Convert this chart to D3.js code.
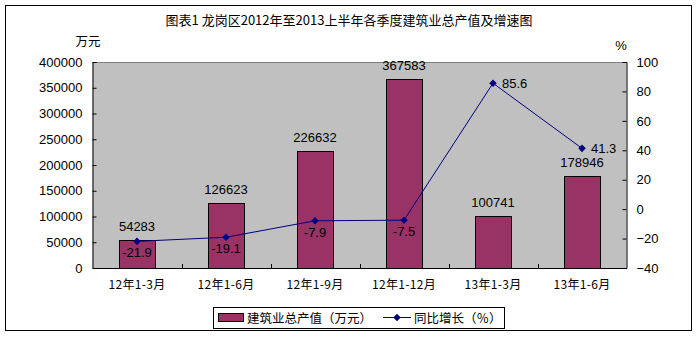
<!DOCTYPE html>
<html>
<head>
<meta charset="utf-8">
<script src="https://cdn.jsdelivr.net/npm/d3@7"></script>
<style>
  html, body { margin: 0; padding: 0; background: #fff; }
  svg { display: block; }
</style>
</head>
<body>
<svg id="chart" width="699" height="337"></svg>
<script>
// Quarterly cumulative construction output and year-on-year growth
const categories = ["12年1-3月", "12年1-6月", "12年1-9月", "12年1-12月", "13年1-3月", "13年1-6月"];
const outputValues = [54283, 126623, 226632, 367583, 100741, 178946];   // 万元
const growthValues = [-21.9, -19.1, -7.9, -7.5, 85.6, 41.3];            // %
const leftTicks = [0, 50000, 100000, 150000, 200000, 250000, 300000, 350000, 400000];
const rightTicks = [-40, -20, 0, 20, 40, 60, 80, 100];
const growthLabelPos = ["below", "below", "below", "below", "right", "right"];

const svg = d3.select("#chart");
const latin = "'Liberation Sans', Arial, sans-serif";
const cjk = "'Noto Sans CJK SC', 'Noto Sans', sans-serif";

const plot = { left: 92.5, right: 626.5, top: 62, bottom: 268 };

// outer frame
svg.append("rect")
  .attr("x", 5.5).attr("y", 5.5)
  .attr("width", 686).attr("height", 325)
  .attr("fill", "#fff").attr("stroke", "#000").attr("stroke-width", 1);

// title
svg.append("text")
  .attr("x", 349).attr("y", 25)
  .attr("text-anchor", "middle")
  .style("font-family", cjk).style("font-size", "13px")
  .attr("fill", "#000")
  .text("图表1 龙岗区2012年至2013上半年各季度建筑业总产值及增速图");

// unit labels
svg.append("text").attr("x", 88).attr("y", 46).attr("text-anchor", "middle")
  .style("font-family", cjk).style("font-size", "12.5px").text("万元");
svg.append("text").attr("x", 621).attr("y", 50).attr("text-anchor", "middle")
  .style("font-family", latin).style("font-size", "13px").text("%");

// scales
const x = d3.scaleBand().domain(categories).range([plot.left, plot.right]).padding(0);
const yL = d3.scaleLinear().domain([0, 400000]).range([plot.bottom, plot.top]);
const yR = d3.scaleLinear().domain([-40, 100]).range([plot.bottom, plot.top]);

// plot area background
svg.append("rect")
  .attr("x", plot.left).attr("y", plot.top)
  .attr("width", plot.right - plot.left).attr("height", plot.bottom - plot.top)
  .attr("fill", "#c0c0c0");
svg.append("line")
  .attr("x1", plot.left).attr("x2", plot.right)
  .attr("y1", plot.top + 0.5).attr("y2", plot.top + 0.5)
  .attr("stroke", "#808080");

// bars
const barW = x.bandwidth() * 0.4;
svg.append("g").selectAll("rect")
  .data(outputValues)
  .join("rect")
  .attr("x", (d, i) => Math.round(x(categories[i]) + (x.bandwidth() - barW) / 2) + 0.5)
  .attr("y", d => Math.round(yL(d)) + 0.5)
  .attr("width", Math.round(barW))
  .attr("height", d => Math.round(plot.bottom - yL(d)))
  .attr("fill", "#993366").attr("stroke", "#000").attr("stroke-width", 1);

// bar value labels
svg.append("g").selectAll("text")
  .data(outputValues)
  .join("text")
  .attr("x", (d, i) => x(categories[i]) + x.bandwidth() / 2)
  .attr("y", d => yL(d) - 9)
  .attr("text-anchor", "middle")
  .style("font-family", latin).style("font-size", "13px")
  .attr("fill", "#000")
  .text(d => d);

// left axis
const axisL = svg.append("g")
  .attr("transform", `translate(${plot.left},0)`)
  .call(d3.axisLeft(yL).tickValues(leftTicks).tickSize(-4).tickPadding(10).tickFormat(d3.format("d")));
axisL.select(".domain").attr("stroke", "#000");
axisL.selectAll("text").style("font-family", latin).style("font-size", "13px").attr("fill", "#000");

// right axis
const axisR = svg.append("g")
  .attr("transform", `translate(${plot.right},0)`)
  .call(d3.axisRight(yR).tickValues(rightTicks).tickSize(-4).tickPadding(10).tickFormat(d3.format("d")));
axisR.select(".domain").attr("stroke", "#000");
axisR.selectAll("text").style("font-family", latin).style("font-size", "13px").attr("fill", "#000");

// bottom axis with ticks at category boundaries
const axisB = svg.append("g")
  .attr("transform", `translate(0,${plot.bottom})`)
  .call(d3.axisBottom(x).tickSize(0).tickPadding(12));
axisB.select(".domain").attr("stroke", "#000");
axisB.selectAll("text").style("font-family", cjk).style("font-size", "12px")
  .style("letter-spacing", "0.3px").attr("fill", "#000");
svg.append("g").selectAll("line")
  .data(categories.slice(1))
  .join("line")
  .attr("x1", d => Math.round(x(d)) + 0.5).attr("x2", d => Math.round(x(d)) + 0.5)
  .attr("y1", plot.bottom).attr("y2", plot.bottom - 4)
  .attr("stroke", "#000");

// growth line
const cx = (i) => x(categories[i]) + x.bandwidth() / 2;
const line = d3.line().x((d, i) => cx(i)).y(d => yR(d));
svg.append("path")
  .datum(growthValues)
  .attr("d", line)
  .attr("fill", "none").attr("stroke", "#000080").attr("stroke-width", 1);

const diamond = d3.symbol().type(d3.symbolDiamond2).size(36);
svg.append("g").selectAll("path")
  .data(growthValues)
  .join("path")
  .attr("transform", (d, i) => `translate(${cx(i)},${yR(d)})`)
  .attr("d", diamond)
  .attr("fill", "#000080");

// growth labels
svg.append("g").selectAll("text")
  .data(growthValues)
  .join("text")
  .attr("x", (d, i) => growthLabelPos[i] === "right" ? cx(i) + 9 : cx(i))
  .attr("y", (d, i) => growthLabelPos[i] === "right" ? yR(d) + 5 : yR(d) + 16)
  .attr("text-anchor", (d, i) => growthLabelPos[i] === "right" ? "start" : "middle")
  .style("font-family", latin).style("font-size", "13px")
  .attr("fill", "#000")
  .text(d => d.toFixed(1));

// legend
const lg = svg.append("g");
lg.append("rect").attr("x", 213.5).attr("y", 307.5).attr("width", 291).attr("height", 21)
  .attr("fill", "#fff").attr("stroke", "#000");
lg.append("rect").attr("x", 218.5).attr("y", 313.5).attr("width", 25).attr("height", 8)
  .attr("fill", "#993366").attr("stroke", "#000");
lg.append("text").attr("x", 247).attr("y", 322.5)
  .style("font-family", cjk).style("font-size", "12.5px").text("建筑业总产值（万元）");
lg.append("line").attr("x1", 383).attr("x2", 411).attr("y1", 317.5).attr("y2", 317.5)
  .attr("stroke", "#000080");
lg.append("path").attr("transform", "translate(397,317.5)").attr("d", diamond).attr("fill", "#000080");
lg.append("text").attr("x", 414).attr("y", 322.5)
  .style("font-family", cjk).style("font-size", "12.5px").text("同比增长（％）");
</script>
</body>
</html>
